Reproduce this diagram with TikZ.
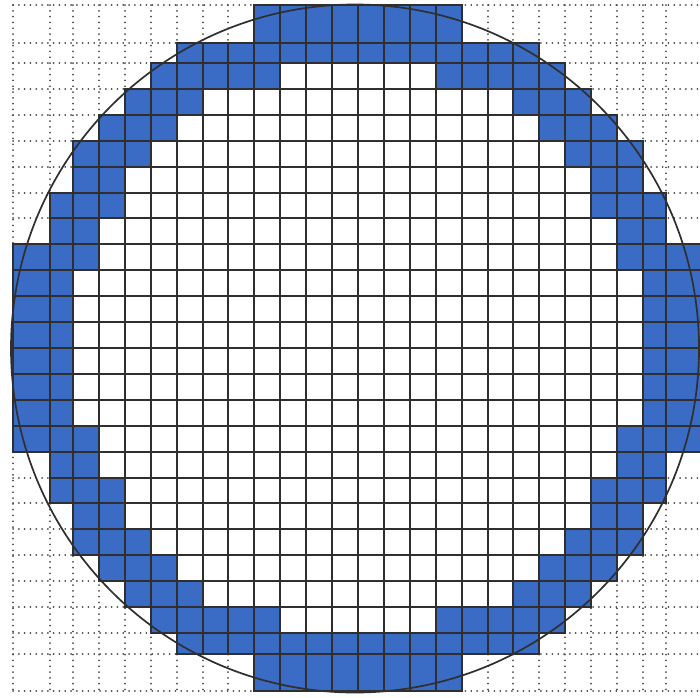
\documentclass[tikz,border=0pt]{standalone}
\usepackage{tikz}
\usepackage{xcolor}
\definecolor{WaferBlue}{HTML}{3B6CC5}
\definecolor{GridGray}{HTML}{2F2F2F}
\definecolor{DotGray}{HTML}{4A4A4A}

\begin{document}
\begin{tikzpicture}[
  x=1pt,y=-1pt,
  chip/.style={fill=WaferBlue},
  cell/.style={draw=GridGray,line width=1.6pt},
  dotline/.style={draw=DotGray,line width=1.8pt,line cap=round,dash pattern=on 0.1pt off 5.7pt},
  rim/.style={draw=GridGray,line width=1.7pt}
]
\useasboundingbox (0,0) rectangle (700,697);
\fill[white] (0,0) rectangle (700,697);
\clip (0,0) rectangle (700,697);
% grid lines (column and row positions)
\foreach \x [count=\i] in {13,50,73,99,125,151,177,203,228,254,280,306,332,358,384,410,436,462,488,513,539,565,591,617,643,666,703}
  \coordinate (c\i) at (\x,0);
\foreach \y [count=\j] in {5,43,63,89,115,141,167,193,218,244,270,296,322,348,374,400,426,452,478,503,529,555,581,607,633,654,691}
  \coordinate (r\j) at (0,\y);
% dotted background grid
\foreach \i in {1,...,27} {
  \draw[dotline] (c\i|-r1) -- (c\i|-r27);
  \draw[dotline] (r\i-|c1) -- (r\i-|c27);
}
% blue edge dies (top half, mirrored)
\foreach \row/\from/\upto in {1/10/18,2/7/21,3/6/11,4/5/8,5/4/7,6/3/6,7/3/5,8/2/5,9/2/4,10/1/4,11/1/3,12/1/3,13/1/3} {
  \pgfmathtruncatemacro\rowb{\row+1}
  \pgfmathtruncatemacro\mrow{27-\row}
  \pgfmathtruncatemacro\mrowb{28-\row}
  \pgfmathtruncatemacro\mfrom{28-\upto}
  \pgfmathtruncatemacro\mupto{28-\from}
  \fill[chip] (c\from|-r\row) rectangle (c\upto|-r\rowb);
  \fill[chip] (c\mfrom|-r\row) rectangle (c\mupto|-r\rowb);
  \fill[chip] (c\from|-r\mrow) rectangle (c\upto|-r\mrowb);
  \fill[chip] (c\mfrom|-r\mrow) rectangle (c\mupto|-r\mrowb);
}
% solid die outlines
\foreach \row/\from in {1/10,2/7,3/6,4/5,5/4,6/3,7/3,8/2,9/2,10/1,11/1,12/1,13/1} {
  \pgfmathtruncatemacro\rowb{\row+1}
  \pgfmathtruncatemacro\mrow{27-\row}
  \pgfmathtruncatemacro\mrowb{28-\row}
  \pgfmathtruncatemacro\upto{27-\from}
  \foreach \col in {\from,...,\upto} {
    \pgfmathtruncatemacro\colb{\col+1}
    \draw[cell] (c\col|-r\row) rectangle (c\colb|-r\rowb);
    \draw[cell] (c\col|-r\mrow) rectangle (c\colb|-r\mrowb);
  }
}
% wafer rim
\coordinate (wafer) at (355,348.5);
\draw[rim] (wafer) circle[radius=344];
\end{tikzpicture}
\end{document}
